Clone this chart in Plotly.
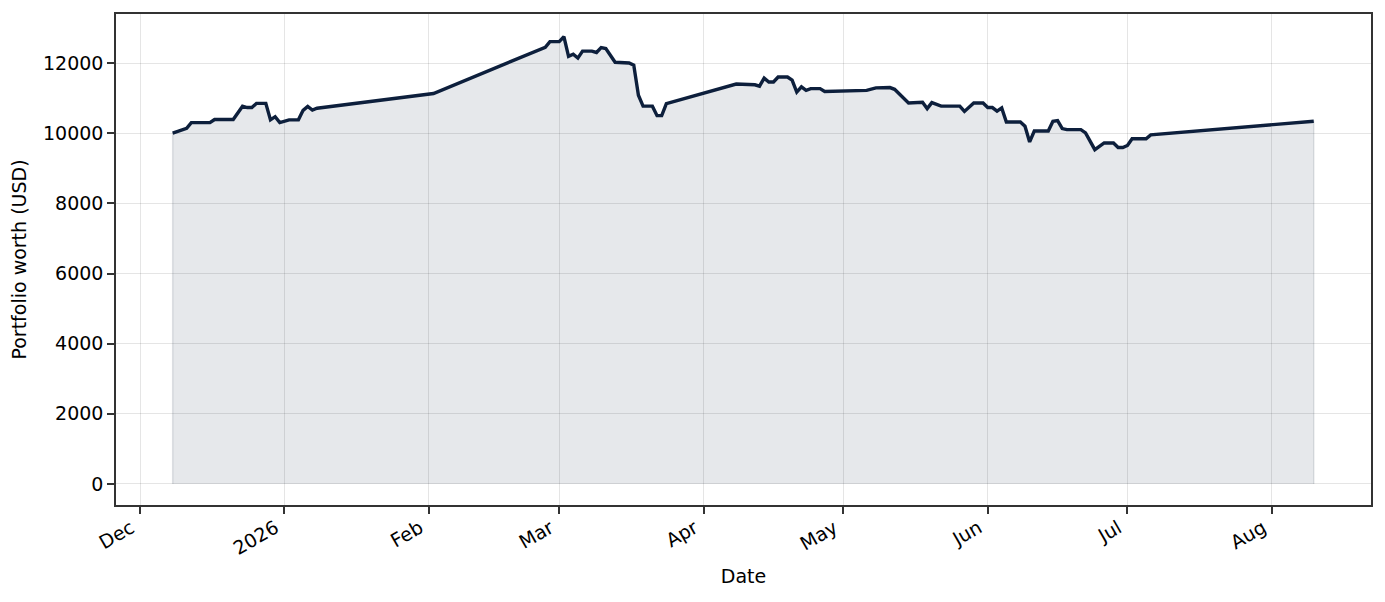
import pandas as pd
import plotly.graph_objects as go

# Portfolio value
dates = [
    "2025-12-08", "2025-12-11", "2025-12-12", "2025-12-16", "2025-12-17", "2025-12-21",
    "2025-12-23", "2025-12-24", "2025-12-25", "2025-12-26", "2025-12-28", "2025-12-29",
    "2025-12-30", "2025-12-31", "2026-01-02", "2026-01-04", "2026-01-05", "2026-01-06",
    "2026-01-07", "2026-01-08", "2026-02-02", "2026-02-25", "2026-02-26", "2026-02-27",
    "2026-03-01", "2026-03-02", "2026-03-03", "2026-03-04", "2026-03-05", "2026-03-06",
    "2026-03-08", "2026-03-09", "2026-03-10", "2026-03-11", "2026-03-13", "2026-03-16",
    "2026-03-17", "2026-03-18", "2026-03-19", "2026-03-21", "2026-03-22", "2026-03-23",
    "2026-03-24", "2026-04-08", "2026-04-12", "2026-04-13", "2026-04-14", "2026-04-15",
    "2026-04-16", "2026-04-17", "2026-04-19", "2026-04-20", "2026-04-21", "2026-04-22",
    "2026-04-23", "2026-04-24", "2026-04-26", "2026-04-27", "2026-05-06", "2026-05-08",
    "2026-05-11", "2026-05-12", "2026-05-13", "2026-05-15", "2026-05-18", "2026-05-19",
    "2026-05-20", "2026-05-22", "2026-05-26", "2026-05-27", "2026-05-29", "2026-05-31",
    "2026-06-01", "2026-06-02", "2026-06-03", "2026-06-04", "2026-06-05", "2026-06-08",
    "2026-06-09", "2026-06-10", "2026-06-11", "2026-06-14", "2026-06-15", "2026-06-16",
    "2026-06-17", "2026-06-18", "2026-06-21", "2026-06-22", "2026-06-24", "2026-06-26",
    "2026-06-28", "2026-06-29", "2026-06-30", "2026-07-01", "2026-07-02", "2026-07-05",
    "2026-07-06", "2026-08-10",
]
worth = [
    10000, 10140, 10300, 10300, 10390, 10390,
    10770, 10730, 10730, 10850, 10850, 10380,
    10470, 10300, 10380, 10380, 10650, 10760,
    10660, 10710, 11130, 12400, 12450, 12610,
    12610, 12750, 12190, 12250, 12140, 12340,
    12340, 12300, 12440, 12410, 12020, 12000,
    11940, 11080, 10770, 10770, 10500, 10500,
    10840, 11400, 11380, 11340, 11570, 11460,
    11460, 11600, 11600, 11510, 11170, 11320,
    11220, 11270, 11270, 11190, 11220, 11290,
    11300, 11250, 11130, 10860, 10880, 10700,
    10870, 10770, 10770, 10620, 10860, 10860,
    10730, 10730, 10630, 10720, 10320, 10320,
    10200, 9750, 10060, 10060, 10340, 10360,
    10130, 10100, 10100, 10010, 9530, 9720,
    9720, 9590, 9590, 9650, 9840, 9840,
    9950, 10340,
]

tick_dates = ["2025-12-01", "2026-01-01", "2026-02-01", "2026-03-01", "2026-04-01",
              "2026-05-01", "2026-06-01", "2026-07-01", "2026-08-01"]
tick_labels = ["Dec", "2026", "Feb", "Mar", "Apr", "May", "Jun", "Jul", "Aug"]
y_ticks = [0, 2000, 4000, 6000, 8000, 10000, 12000]

df = pd.DataFrame({"date": pd.to_datetime(dates), "worth": worth})

navy = "#0d1f3c"
font = dict(family="DejaVu Sans", size=19, color="black")

fig = go.Figure()

# shaded area under the curve, closed down to zero like fill_between
fill_x = [df["date"].iloc[0]] + list(df["date"]) + [df["date"].iloc[-1]]
fill_y = [0] + list(df["worth"]) + [0]
fig.add_trace(go.Scatter(
    x=fill_x, y=fill_y, mode="lines", fill="toself",
    fillcolor="rgba(13,31,60,0.1)",
    line=dict(color="rgba(13,31,60,0.12)", width=1.5),
    hoverinfo="skip", showlegend=False,
))

fig.add_trace(go.Scatter(
    x=df["date"], y=df["worth"], mode="lines",
    line=dict(color=navy, width=3.4),
    showlegend=False,
))

axis_style = dict(
    showline=True, linecolor="#333333", linewidth=1.5, mirror=True,
    ticks="outside", ticklen=7, tickwidth=1.5, tickcolor="#333333",
    showgrid=True, gridcolor="rgba(0,0,0,0.1)", gridwidth=1.2,
    zeroline=False, tickfont=font,
)

fig.update_xaxes(
    **axis_style,
    type="date",
    range=["2025-11-25 20:00", "2026-08-22 07:00"],
    tickvals=tick_dates, ticktext=tick_labels, tickangle=-30,
    ticklabelshift=-9, ticklabelstandoff=-4,
    title=dict(text="Date", font=font, standoff=12),
)
fig.update_yaxes(
    **axis_style,
    range=[-599, 13397],
    tickvals=y_ticks, ticktext=[str(v) for v in y_ticks],
    title=dict(text="Portfolio worth (USD)", font=font, standoff=12),
)

# the page body has an 8px margin, so the figure is shrunk to keep the
# plot area where the reference has it
fig.update_layout(
    width=1377, height=594,
    margin=dict(l=108, r=14, t=6, b=97, autoexpand=False),
    plot_bgcolor="white", paper_bgcolor="white",
    font=font,
)

fig.write_html("out.html")
